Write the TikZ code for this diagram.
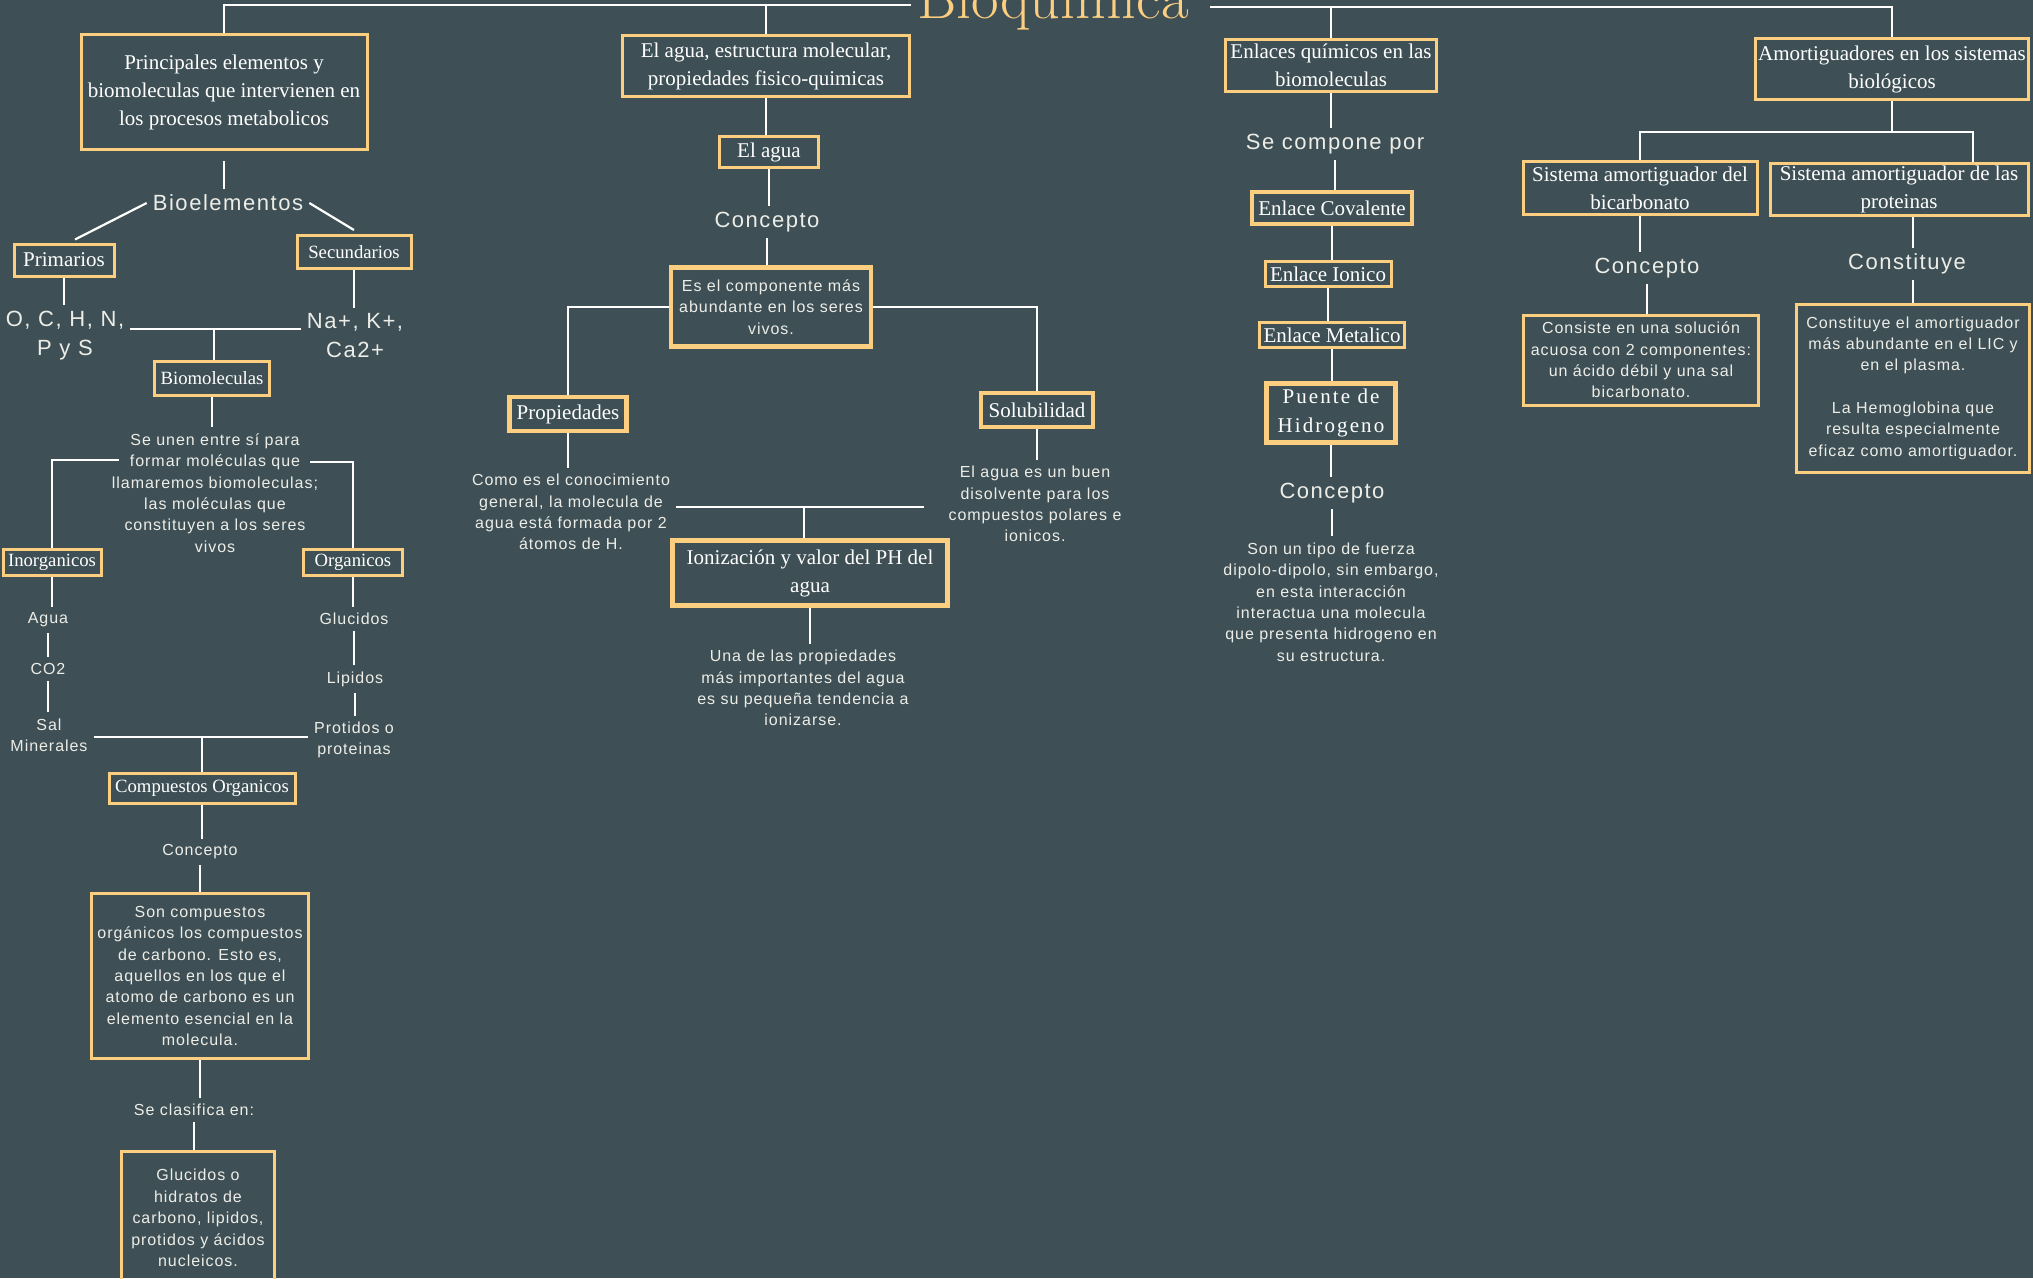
\documentclass[tikz,border=0pt]{standalone}
\usepackage{fontspec}
\newfontfamily\fuentetexto[LetterSpace=6]{Liberation Sans}
\newfontfamily\fuentegrande[LetterSpace=7]{Liberation Sans}
\newfontfamily\fuentecaja{Liberation Serif}
\newfontfamily\fuentepuente[LetterSpace=10]{Liberation Serif}
\definecolor{fondo}{HTML}{3E5055}
\definecolor{oro}{HTML}{FCCE80}
\definecolor{claro}{HTML}{EDEDE8}

\begin{document}
\begin{tikzpicture}[x=1pt, y=-1pt,
  linea/.style={draw=white, line width=2.2pt},
  caja/.style={draw=oro, line width=3pt, align=center, text=white, inner sep=2pt, font=\fuentecaja\fontsize{21}{28}\selectfont},
  cajachica/.style={caja, font=\fuentecaja\fontsize{18.7}{26}\selectfont},
  cajagruesa/.style={caja, line width=4.5pt},
  cajatexto/.style={caja, text=claro, font=\fuentetexto\fontsize{16}{21.4}\selectfont},
  texto/.style={align=center, text=claro, inner sep=6pt, font=\fuentetexto\fontsize{16}{21.4}\selectfont},
  textogrande/.style={texto, font=\fuentegrande\fontsize{22}{29}\selectfont}]
\useasboundingbox (0,0) rectangle (2033,1278);
\clip (0,0) rectangle (2033,1278);
\fill[fondo] (0,0) rectangle (2033,1278);

\node[anchor=base, inner sep=0pt, text=oro, font=\fontsize{60}{62}\selectfont] (bioq) at (1053,18) {Bioquímica};

% columna izquierda
\node[caja, minimum width=286pt, minimum height=115pt] (princ) at (224,92) {Principales elementos y\\biomoleculas que intervienen en\\los procesos metabolicos};
\node[textogrande] (bioel) at (228,203) {Bioelementos};
\node[caja, minimum width=100pt, minimum height=32pt] (prim) at (64,260) {Primarios};
\node[cajachica, minimum width=114pt, minimum height=33pt] (secu) at (354,252) {Secundarios};
\node[textogrande] (ochn) at (65,336) {O, C, H, N,\\P y S};
\node[textogrande] (nak) at (355,336) {Na+, K+,\\Ca2+};
\node[cajachica, minimum width=115pt, minimum height=34pt] (biom) at (212,378) {Biomoleculas};
\node[texto] (seunen) at (215,493) {Se unen entre sí para\\formar moléculas que\\llamaremos biomoleculas;\\las moléculas que\\constituyen a los seres\\vivos};
\node[cajachica, minimum width=98pt, minimum height=26pt] (inorg) at (52,562) {Inorganicos};
\node[cajachica, minimum width=99pt, minimum height=26pt] (org) at (353,562) {Organicos};
\node[texto] (agua) at (48,620) {Agua};
\node[texto] (co2) at (48,669) {CO2};
\node[texto] (sal) at (49,735) {Sal\\Minerales};
\node[texto] (gluc) at (354,619) {Glucidos};
\node[texto] (lipi) at (355,679) {Lipidos};
\node[texto] (prot) at (354,740) {Protidos o\\proteinas};
\node[cajachica, minimum width=186pt, minimum height=30pt] (comp) at (202,788) {Compuestos Organicos};
\node[texto] (concA) at (200,852) {Concepto};
\node[cajatexto, minimum width=217pt, minimum height=165pt] (soncomp) at (200,976) {Son compuestos\\orgánicos los compuestos\\de carbono. Esto es,\\aquellos en los que el\\atomo de carbono es un\\elemento esencial en la\\molecula.};
\node[texto] (clasif) at (194,1110) {Se clasifica en:};
\node[cajatexto, minimum width=153pt, minimum height=133pt] (gluc2) at (198,1218) {Glucidos o\\hidratos de\\carbono, lipidos,\\protidos y ácidos\\nucleicos.};

% columna del agua
\node[caja, minimum width=287pt, minimum height=61pt] (agua1) at (766,66) {El agua, estructura molecular,\\propiedades fisico-quimicas};
\node[caja, minimum width=99pt, minimum height=31pt] (elagua) at (769,152) {El agua};
\node[textogrande] (concB) at (767,222) {Concepto};
\node[cajatexto, line width=4.5pt, minimum width=200pt, minimum height=79pt] (comp2) at (771,307) {Es el componente más\\abundante en los seres\\vivos.};
\node[cajagruesa, minimum width=117pt, minimum height=34pt] (propi) at (568,414) {Propiedades};
\node[cajagruesa, minimum width=112pt, minimum height=34pt] (solu) at (1037,410) {Solubilidad};
\node[texto] (comoes) at (571,512) {Como es el conocimiento\\general, la molecula de\\agua está formada por 2\\átomos de H.};
\node[texto] (elaguaes) at (1035,504) {El agua es un buen\\disolvente para los\\compuestos polares e\\ionicos.};
\node[cajagruesa, minimum width=275pt, minimum height=65pt] (ioniz) at (810,573) {Ionización y valor del PH del\\agua};
\node[texto] (unade) at (803,688) {Una de las propiedades\\más importantes del agua\\es su pequeña tendencia a\\ionizarse.};

% enlaces
\node[caja, minimum width=211pt, minimum height=52pt] (enlaces) at (1331,65) {Enlaces químicos en las\\biomoleculas};
\node[textogrande] (secomp) at (1335,144) {Se compone por};
\node[cajagruesa, minimum width=160pt, minimum height=32pt] (coval) at (1332,208) {Enlace Covalente};
\node[caja, minimum width=126pt, minimum height=25pt] (ionico) at (1328,274) {Enlace Ionico};
\node[caja, minimum width=145pt, minimum height=25pt] (metal) at (1332,335) {Enlace Metalico};
\node[cajagruesa, minimum width=129pt, minimum height=59pt, font=\fuentepuente\fontsize{21}{29}\selectfont] (puente) at (1331,413) {Puente de\\Hidrogeno};
\node[textogrande] (concC) at (1332,493) {Concepto};
\node[texto] (sonun) at (1331,602) {Son un tipo de fuerza\\dipolo-dipolo, sin embargo,\\en esta interacción\\interactua una molecula\\que presenta hidrogeno en\\su estructura.};

% amortiguadores
\node[caja, minimum width=273pt, minimum height=61pt] (amort) at (1892,69) {Amortiguadores en los sistemas\\biológicos};
\node[caja, minimum width=234pt, minimum height=53pt] (bicarb) at (1640,188) {Sistema amortiguador del\\bicarbonato};
\node[caja, minimum width=258pt, minimum height=52pt] (prote) at (1899,189) {Sistema amortiguador de las\\proteinas};
\node[textogrande] (concD) at (1647,268) {Concepto};
\node[cajatexto, minimum width=235pt, minimum height=90pt] (consiste) at (1641,360) {Consiste en una solución\\acuosa con 2 componentes:\\un ácido débil y una sal\\bicarbonato.};
\node[textogrande] (constit) at (1907,264) {Constituye};
\node[cajatexto, minimum width=233pt, minimum height=168pt] (constbox) at (1913,388) {Constituye el amortiguador\\más abundante en el LIC y\\en el plasma.\\[21pt]La Hemoglobina que\\resulta especialmente\\eficaz como amortiguador.};

% lineas
\coordinate (izq) at (911,5);
\coordinate (der) at (1210,7);
\draw[linea] (izq) -| (princ.north);
\draw[linea] (izq -| agua1.north) -- (agua1.north);
\draw[linea] (der) -| (amort.north);
\draw[linea] (der -| enlaces.north) -- (enlaces.north);

\draw[linea, shorten <=10pt] (princ.south) -- (princ.south |- bioel.north);
\draw[linea] (bioel.west) -- ([xshift=11pt, yshift=3pt]prim.north);
\draw[linea] (bioel.east) -- ([yshift=4pt]secu.north);
\draw[linea] (prim.south) -- (prim.south |- ochn.north);
\draw[linea] (secu.south) -- (secu.south |- nak.north);
\coordinate (ramaB) at (214,329);
\draw[linea] (ochn.east |- ramaB) -- (nak.west |- ramaB);
\draw[linea] (ramaB) -- (ramaB |- biom.north);
\draw[linea] (biom.south) -- (biom.south |- seunen.north);
\draw[linea] ([xshift=13pt, yshift=33pt]seunen.west) -| (inorg.north);
\draw[linea] ([xshift=-14pt, yshift=31pt]seunen.east) -| (org.north);
\draw[linea] (inorg.south) -- (inorg.south |- agua.north);
\draw[linea] (agua.south) -- (agua.south |- co2.north);
\draw[linea] (co2.south) -- (co2.south |- sal.north);
\draw[linea] (org.south) -- (org.south |- gluc.north);
\draw[linea] (gluc.south) -- (gluc.south |- lipi.north);
\draw[linea] (lipi.south) -- (lipi.south |- prot.north);
\coordinate (ramaC) at (202,737);
\draw[linea] (sal.east |- ramaC) -- (prot.west |- ramaC);
\draw[linea] (ramaC) -- (ramaC |- comp.north);
\draw[linea] (comp.south) -- (comp.south |- concA.north);
\draw[linea] (concA.south) -- (concA.south |- soncomp.north);
\draw[linea] (soncomp.south) -- (soncomp.south |- clasif.north);
\draw[linea] (clasif.south) -- (clasif.south |- gluc2.north);

\draw[linea] (agua1.south) -- (agua1.south |- elagua.north);
\draw[linea] (elagua.south) -- (elagua.south |- concB.north);
\draw[linea] (concB.south) -- (concB.south |- comp2.north);
\draw[linea] (comp2.west) -| (propi.north);
\draw[linea] (comp2.east) -| (solu.north);
\draw[linea] (propi.south) -- (propi.south |- comoes.north);
\draw[linea] (solu.south) -- (solu.south |- elaguaes.north);
\coordinate (ramaD) at (804,507);
\draw[linea, shorten >=18pt] (comoes.east |- ramaD) -- (elaguaes.west |- ramaD);
\draw[linea] (ramaD) -- (ramaD |- ioniz.north);
\draw[linea] (ioniz.south) -- (ioniz.south |- unade.north);

\draw[linea] (enlaces.south) -- (enlaces.south |- secomp.north);
\draw[linea] (secomp.south) -- (secomp.south |- coval.north);
\draw[linea] (coval.south) -- (coval.south |- ionico.north);
\draw[linea] (ionico.south) -- (ionico.south |- metal.north);
\draw[linea] (metal.south) -- (metal.south |- puente.north);
\draw[linea] (puente.south) -- (puente.south |- concC.north);
\draw[linea] (concC.south) -- (concC.south |- sonun.north);

\coordinate (ramaE) at (1894,132);
\coordinate (ramaF) at (1973,132);
\draw[linea] (amort.south) -- (amort.south |- ramaE);
\draw[linea] (bicarb.north) |- (ramaF) -- (ramaF |- prote.north);
\draw[linea] (bicarb.south) -- (bicarb.south |- concD.north);
\draw[linea] (concD.south) -- (concD.south |- consiste.north);
\draw[linea] (prote.south -| constbox.north) -- (constit.north -| constbox.north);
\draw[linea] (constit.south -| constbox.north) -- (constbox.north);
\end{tikzpicture}
\end{document}
